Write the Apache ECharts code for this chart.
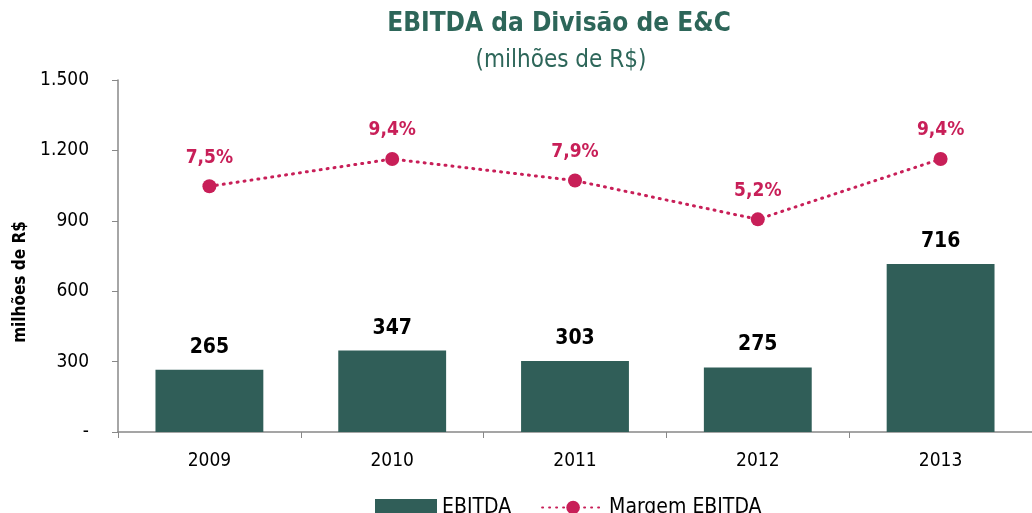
<!DOCTYPE html>
<html><head><meta charset="utf-8">
<script src="https://cdn.jsdelivr.net/npm/echarts@6/dist/echarts.min.js"></script>
<style>html,body{margin:0;padding:0;background:#fff}#c{width:1032px;height:513px}</style>
</head><body><div id="c"></div>
<script>
const categories = ['2009','2010','2011','2012','2013'];
const ebitda = [265, 347, 303, 275, 716];
const margem = [7.5, 9.4, 7.9, 5.2, 9.4];
const yTicks = {0:'-',300:'300',600:'600',900:'900',1200:'1.200',1500:'1.500'};

const FONT = '"Liberation Sans Narrow", "DejaVu Sans Condensed", "Liberation Sans", sans-serif';
const GREEN = '#305e58';
const RED = '#c81f58';
const chart = echarts.init(document.getElementById('c'));
chart.setOption({
  animation:false,
  textStyle:{fontFamily:FONT},
  title:[
    {text:'EBITDA da Divisão de E&C', left:554, top:6, textAlign:'center',
     textStyle:{fontFamily:FONT, fontSize:26, fontWeight:'bold', color:'#2d6659'}},
    {text:'(milhões de R$)', left:556, top:44, textAlign:'center',
     textStyle:{fontFamily:FONT, fontSize:24, fontWeight:'normal', color:'#2d6659'}}
  ],
  graphic:[
    {type:'text', x:21, y:282, rotation:Math.PI/2,
     style:{text:'milhões de R$', textAlign:'center', textVerticalAlign:'middle',
       font:'bold 17px '+FONT, fill:'#000'}}
  ],
  legend:{
    bottom:-10, left:370, itemGap:30,
    textStyle:{fontFamily:FONT, fontSize:21, color:'#000'},
    data:[
      {name:'EBITDA', icon:'rect', itemStyle:{color:GREEN}},
      {name:'Margem EBITDA'}
    ],
    itemWidth:62, itemHeight:17
  },
  grid:{left:118, top:80, width:918, height:352, containLabel:false},
  xAxis:{type:'category', data:categories,
    axisLine:{lineStyle:{color:'#888', width:1.5}},
    axisTick:{show:true, alignWithLabel:false, length:6, lineStyle:{color:'#888'}},
    axisLabel:{fontFamily:FONT, fontSize:19, color:'#000', margin:20}},
  yAxis:[
    {type:'value', min:0, max:1500, interval:300,
     axisLine:{show:true, lineStyle:{color:'#888', width:1.5}},
     axisTick:{show:true, length:6, lineStyle:{color:'#888'}},
     splitLine:{show:false},
     axisLabel:{fontFamily:FONT, fontSize:19, color:'#000', margin:29, formatter:v=>yTicks[v]}},
    {type:'value', min:-9.6, max:14.9, show:false, splitLine:{show:false}}
  ],
  series:[
    {name:'EBITDA', type:'bar', data:ebitda, barWidth:'59%', itemStyle:{color:GREEN},
     label:{show:true, position:'top', distance:12, fontFamily:FONT, fontSize:21, fontWeight:'bold', color:'#000'}},
    {name:'Margem EBITDA', type:'line', yAxisIndex:1, data:margem,
     symbol:'circle', symbolSize:14, itemStyle:{color:RED},
     lineStyle:{color:RED, width:3, type:[1,6], cap:'round'},
     label:{show:true, position:'top', distance:12, fontFamily:FONT, fontSize:19, fontWeight:'bold', color:RED,
       formatter:p=>p.value.toFixed(1).replace('.',',')+'%'}}
  ]
});
</script></body></html>
